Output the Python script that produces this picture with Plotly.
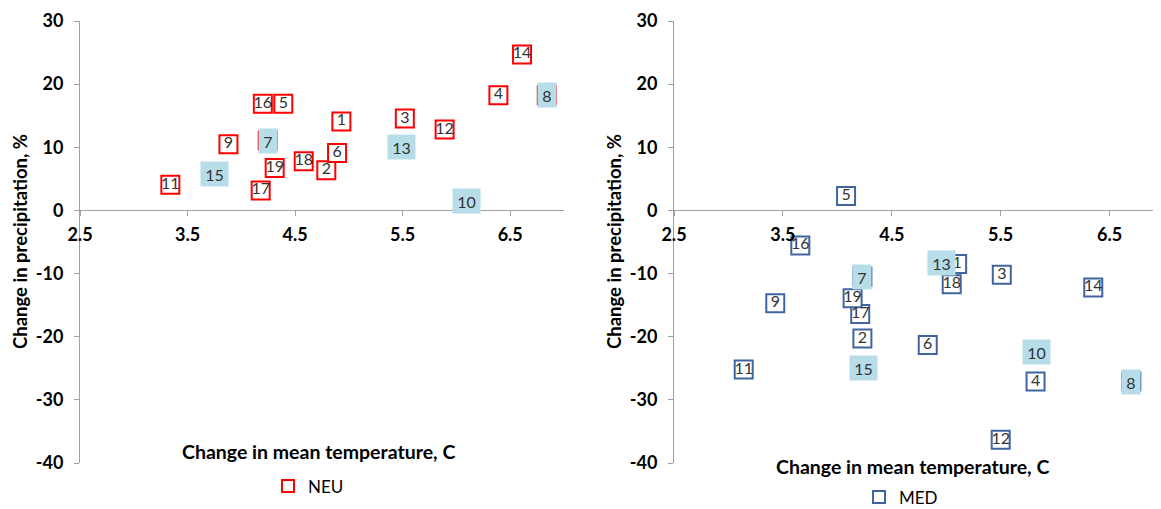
import plotly.graph_objects as go

# ---------------- data ----------------
ids = [str(i) for i in range(1, 20)]

neu_temp = [4.93, 4.79, 5.52, 6.39, 4.39, 4.89, 4.245, 6.84, 3.88, 6.09,
            3.34, 5.89, 5.49, 6.61, 3.75, 4.20, 4.18, 4.58, 4.31]
neu_prec = [14.1, 6.35, 14.55, 18.25, 16.9, 9.1, 11.06, 18.25, 10.5, 1.43,
            4.08, 12.8, 10.05, 24.7, 5.77, 16.9, 3.17, 7.8, 6.7]

med_temp = [5.10, 4.23, 5.51, 5.82, 4.08, 4.83, 4.23, 6.70, 3.43, 5.83,
            3.14, 5.50, 4.96, 6.35, 4.24, 3.66, 4.21, 5.05, 4.14]
med_prec = [-8.5, -20.3, -10.2, -27.1, 2.3, -21.3, -10.5, -27.1, -14.7, -22.4,
            -25.2, -36.3, -8.27, -12.2, -25.0, -5.55, -16.4, -11.7, -13.9]

highlight = ["7", "8", "10", "13", "15"]

x_ticks = [2.5, 3.5, 4.5, 5.5, 6.5]
x_tick_text = ["2.5", "3.5", "4.5", "5.5", "6.5"]
y_ticks = [30, 20, 10, 0, -10, -20, -30, -40]
y_tick_text = ["30", "20", "10", "0", "-10", "-20", "-30", "-40"]

x_title = "Change in mean temperature, C"
y_title = "Change in precipitation, %"

# ---------------- styling ----------------
# page body has an 8px default margin: work in reference pixels, shifted by 8
OX, OY = 8, 8
W, H = 1161 - OX, 509 - OY
MT = 20.5 - OY
MB = H - (463.5 - OY)
PH = H - MT - MB
FONT = "Lato, 'Open Sans', sans-serif"
AXIS_GRAY = "#A0A0A0"
LBL_COLOR = "#333333"
LIGHT_BLUE = "#B7DDE8"
RED = "#FF0000"
BLUE = "#3F64A0"


def px_x(p):
    return (p - OX) / W


def px_y(p):
    return (H - MB - (p - OY)) / PH


fig = go.Figure()

panels = [
    ("NEU", neu_temp, neu_prec, RED, "x", "y", "legend"),
    ("MED", med_temp, med_prec, BLUE, "x2", "y2", "legend2"),
]

for name, xs, ys, col, xa, ya, lg in panels:
    fig.add_trace(go.Scatter(
        x=xs, y=ys, mode="markers", name=name,
        marker=dict(symbol="square", size=18, color="white",
                    line=dict(color=col, width=2)),
        xaxis=xa, yaxis=ya, legend=lg, showlegend=True,
        hoverinfo="skip",
    ))
    tx = [x for x, i in zip(xs, ids) if i not in highlight]
    ty = [y for y, i in zip(ys, ids) if i not in highlight]
    tt = [i for i in ids if i not in highlight]
    fig.add_trace(go.Scatter(
        x=tx, y=ty, text=tt, mode="text", textposition="middle center",
        textfont=dict(family=FONT, size=16, color=LBL_COLOR),
        xaxis=xa, yaxis=ya, showlegend=False, hoverinfo="skip",
    ))
    for x, y, i in zip(xs, ys, ids):
        if i in highlight:
            fig.add_annotation(
                x=x, y=y, xref=xa, yref=ya, text=i, showarrow=False,
                xanchor="center", yanchor="middle",
                bgcolor=LIGHT_BLUE, borderpad=2, borderwidth=1,
                bordercolor="rgba(0,0,0,0)",
                width=14 if len(i) == 1 else 23, height=20,
                font=dict(family=FONT, size=16, color=LBL_COLOR),
            )

axis_common = dict(showgrid=False, zeroline=False, showline=True,
                   linecolor=AXIS_GRAY, linewidth=1, ticks="outside",
                   ticklen=5, tickcolor=AXIS_GRAY, automargin=False,
                   tickfont=dict(family=FONT, size=18, color="black",
                                 weight="bold"))

xrange_right = [2.5, 2.5 + (1161 - 674) / 108.9]

fig.update_layout(
    width=W, height=H,
    margin=dict(l=0, r=0, t=MT, b=MB, autoexpand=False),
    paper_bgcolor="white", plot_bgcolor="white",
    font=dict(family=FONT),
    xaxis=dict(domain=[px_x(80), px_x(564)], range=[2.5, 7.0], anchor="free",
               position=4 / 7, tickvals=x_ticks, ticktext=x_tick_text,
               ticklabelstandoff=3, **axis_common),
    yaxis=dict(domain=[0, 1], range=[-40, 30], anchor="x", tickvals=y_ticks,
               ticktext=y_tick_text, ticklabelstandoff=7, **axis_common),
    xaxis2=dict(domain=[px_x(674), 1.0], range=xrange_right, anchor="free",
                position=4 / 7, tickvals=x_ticks, ticktext=x_tick_text,
                ticklabelstandoff=3, **axis_common),
    yaxis2=dict(domain=[0, 1], range=[-40, 30], anchor="x2", tickvals=y_ticks,
                ticktext=y_tick_text, ticklabelstandoff=7, **axis_common),
    legend=dict(x=px_x(268), y=px_y(487), xanchor="left", yanchor="middle",
                font=dict(family=FONT, size=17, color="black"),
                bgcolor="rgba(0,0,0,0)", itemsizing="constant"),
    legend2=dict(x=px_x(859), y=px_y(498), xanchor="left", yanchor="middle",
                 font=dict(family=FONT, size=17, color="black"),
                 bgcolor="rgba(0,0,0,0)", itemsizing="constant"),
)

xt_font = dict(family=FONT, size=19.5, color="black", weight="bold")
yt_font = dict(family=FONT, size=18.5, color="black", weight="bold")
title_spots = [
    (x_title, 318, 452, 0, xt_font),
    (x_title, 912, 467, 0, xt_font),
    (y_title, 20, 242, -90, yt_font),
    (y_title, 614, 242, -90, yt_font),
]
for txt, px, py, ang, fnt in title_spots:
    fig.add_annotation(x=px_x(px), y=px_y(py), xref="paper", yref="paper",
                       xanchor="center", yanchor="middle",
                       text=txt, showarrow=False, textangle=ang, font=fnt)

fig.write_html("out.html")
